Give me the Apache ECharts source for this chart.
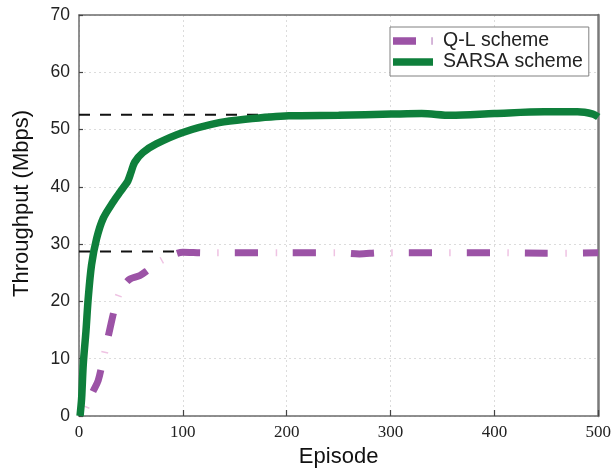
<!DOCTYPE html>
<html>
<head>
<meta charset="utf-8">
<script src="https://cdn.jsdelivr.net/npm/echarts@6/dist/echarts.min.js"></script>
<style>
html,body{margin:0;padding:0;background:#fff;}
#chart{width:614px;height:473px;}
</style>
</head>
<body>
<div id="chart"></div>
<script>
// ---- data ----
const sarsaEpisodes = [1, 2.5, 4.1, 6.7, 8.9, 12.1, 17, 23.3, 33, 40, 44, 47, 50, 53.6, 61.6, 74.4, 100, 135, 160, 202, 250, 301, 330, 358, 400, 448, 480, 495, 500];
const sarsaValues   = [0, 3, 9, 14.8, 20.6, 26.4, 31, 34.5, 37.4, 39.2, 40.2, 41, 42.5, 44.3, 46, 47.5, 49.5, 51.2, 51.8, 52.4, 52.5, 52.7, 52.8, 52.5, 52.8, 53.1, 53.1, 52.7, 52.2];
const qlEpisodes = [2.5, 6, 10.5, 14, 18.5, 23, 26.5, 30, 34.5, 39, 44, 49, 58.5, 65, 72, 79, 90, 100, 120, 200, 250, 270, 290, 350, 400, 450, 500];
const qlValues   = [0, 1.2, 3.2, 4.5, 6.2, 9.7, 12.5, 15.4, 18.9, 21.5, 23, 23.9, 24.5, 25.3, 26.3, 27.1, 28.1, 28.6, 28.5, 28.5, 28.5, 28.3, 28.5, 28.5, 28.5, 28.4, 28.5];
const refLineEnds = [215, 110];
const refLineLevels = [52.6, 28.7];
const seriesNames = ['Q-L scheme', 'SARSA scheme'];
const xTicks = [0, 100, 200, 300, 400, 500];
const yTicks = [0, 10, 20, 30, 40, 50, 60, 70];

const zip = (xs, ys) => xs.map((x, i) => [x, ys[i]]);

const chart = echarts.init(document.getElementById('chart'), null, {renderer: 'canvas'});
const purple = '#9c53a6';
const green = '#0e7f3b';
const frame = '#6b6b6b';
const SM = 0.3;

const option = {
  animation: false,
  backgroundColor: '#fff',
  grid: {left: 79, right: 13, top: 15, bottom: 54},
  legend: {
    data: [
      {name: seriesNames[0], icon: 'path://M0,0H23V7.5H0Z M38.6,0H39.4V7.5H38.6Z M39.95,0H40V7.5H39.95Z', itemStyle: {color: purple, opacity: 1, borderWidth: 0}},
      {name: seriesNames[1], icon: 'rect', itemStyle: {color: green, opacity: 1, borderWidth: 0}}
    ],
    symbolKeepAspect: false,
    orient: 'vertical',
    left: 390, top: 27,
    padding: [4, 6, 4, 3],
    itemGap: 1,
    itemWidth: 40, itemHeight: 7.5,
    backgroundColor: '#fff',
    borderColor: '#808080', borderWidth: 1,
    textStyle: {fontFamily: 'Liberation Sans', fontSize: 19.5, color: '#222', padding: [0, 0, 0, 5]}
  },
  xAxis: [{
    type: 'value', min: xTicks[0], max: xTicks[xTicks.length - 1], interval: 100,
    name: 'Episode', nameLocation: 'middle', nameGap: 30,
    nameTextStyle: {fontFamily: 'Liberation Sans', fontSize: 22, color: '#111'},
    axisLine: {show: true, lineStyle: {color: frame, width: 1.5}},
    axisTick: {show: true, inside: true, length: 6, lineStyle: {color: '#444', width: 1.2}},
    axisLabel: {fontFamily: 'Liberation Serif', fontSize: 17, color: '#222', margin: 8},
    splitLine: {show: true, lineStyle: {color: '#dcdcdc', type: [2, 3], width: 1}}
  }, {
    type: 'value', position: 'top', min: xTicks[0], max: xTicks[xTicks.length - 1], interval: 100,
    axisLine: {show: true, onZero: false, lineStyle: {color: frame, width: 1.5}},
    axisTick: {show: false}, axisLabel: {show: false}, splitLine: {show: false}
  }],
  yAxis: [{
    type: 'value', min: yTicks[0], max: yTicks[yTicks.length - 1], interval: 10,
    name: 'Throughput (Mbps)', nameLocation: 'middle', nameGap: 46,
    nameTextStyle: {fontFamily: 'Liberation Sans', fontSize: 22, color: '#111', padding: [0, 0, 0, 24]},
    axisLine: {show: true, lineStyle: {color: frame, width: 1.5}},
    axisTick: {show: true, inside: true, length: 4, lineStyle: {color: '#444', width: 1.2}},
    axisLabel: {fontFamily: 'Liberation Sans', fontSize: 17.5, color: '#222', margin: 9},
    splitLine: {show: true, lineStyle: {color: '#dcdcdc', type: [2, 3], width: 1}}
  }, {
    type: 'value', position: 'right', min: yTicks[0], max: yTicks[yTicks.length - 1], interval: 10,
    axisLine: {show: true, onZero: false, lineStyle: {color: '#7a7a7a', width: 2.5}},
    axisTick: {show: false}, axisLabel: {show: false}, splitLine: {show: false}
  }],
  series: [
    {
      name: 'ref1', type: 'line', symbol: 'none', silent: true, z: 1,
      data: [[0, refLineLevels[0]], [refLineEnds[0], refLineLevels[0]]],
      lineStyle: {color: '#111', width: 2, type: [11, 10]}
    },
    {
      name: 'ref2', type: 'line', symbol: 'none', silent: true, z: 1,
      data: [[0, refLineLevels[1]], [refLineEnds[1], refLineLevels[1]]],
      lineStyle: {color: '#111', width: 2, type: [11, 10]}
    },
    {
      name: 'ql-dot', type: 'line', symbol: 'none', silent: true, z: 2,
      smooth: SM,
      data: zip(qlEpisodes, qlValues),
      lineStyle: {color: '#efc3e3', width: 7, type: [1.5, 56.5], dashOffset: 48.5}
    },
    {
      name: seriesNames[0], type: 'line', symbol: 'none', z: 3,
      smooth: SM,
      data: zip(qlEpisodes, qlValues),
      itemStyle: {color: purple},
      lineStyle: {color: purple, width: 7, type: [23, 35], dashOffset: 31}
    },
    {
      name: seriesNames[1], type: 'line', symbol: 'none', z: 4,
      smooth: SM,
      data: zip(sarsaEpisodes, sarsaValues),
      itemStyle: {color: green},
      lineStyle: {color: green, width: 7.5}
    }
  ]
};
chart.setOption(option);
</script>
</body>
</html>
